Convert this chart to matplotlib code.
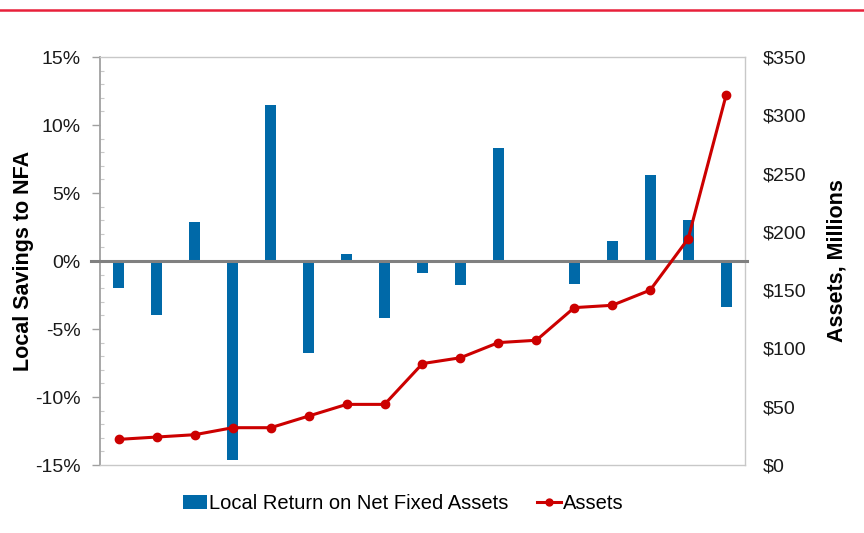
import numpy as np
import matplotlib.pyplot as plt
from matplotlib.ticker import MultipleLocator, FuncFormatter
from matplotlib.lines import Line2D

plt.rcParams['font.family'] = ['Liberation Sans', 'DejaVu Sans']

# rendement local sur actifs nets (en %) et actifs (en millions $)
local_return = [-2.0, -4.0, 2.9, -14.6, 11.5, -6.8, 0.5, -4.2, -0.9, -1.8,
                8.3, -0.05, -1.7, 1.45, 6.3, 3.0, -3.4]
assets = [22, 24, 26, 32, 32, 42, 52, 52, 87, 92,
          105, 107, 135, 137, 150, 194, 317]
bar_label = "Local Return on Net Fixed Assets"
line_label = "Assets"

x = np.arange(len(local_return))

fig = plt.figure(figsize=(8.64, 5.33), dpi=100)
ax = fig.add_axes([100/864, 68/533, 645/864, 408/533])

bars = ax.bar(x, local_return, width=0.29, color='#0069a8', zorder=2,
              label=bar_label)
ax.set_xlim(-0.5, len(x) - 0.5)
ax.set_ylim(-15, 15)
ax.yaxis.set_major_locator(MultipleLocator(5))
ax.yaxis.set_minor_locator(MultipleLocator(1))
ax.yaxis.set_major_formatter(FuncFormatter(lambda v, p: "%d%%" % round(v)))
ax.tick_params(axis='y', which='major', direction='out', length=6, width=1,
               color='#a0a0a0', pad=8, labelsize=14, labelcolor='#1a1a1a')
ax.tick_params(axis='y', which='minor', direction='in', length=3, width=0.8,
               color='#c8c8c8')
ax.set_xticks([])
ax.set_ylabel("Local Savings to NFA", fontsize=15.5, fontweight='bold',
              labelpad=1)

# ligne zero façon excel
ax.axhline(0, xmin=-0.014, xmax=1.003, color='#808080', lw=2.2, zorder=3,
           clip_on=False)

ax.spines['left'].set_color('#a0a0a0')
ax.spines['left'].set_linewidth(1.3)
for s in ['top', 'right', 'bottom']:
    ax.spines[s].set_color('#c8c8c8')
    ax.spines[s].set_linewidth(1)

ax2 = ax.twinx()
ax2.plot(x, assets, color='#cc0000', lw=2.2, marker='o', markersize=6,
         zorder=4, label=line_label)
ax2.set_ylim(0, 350)
ax2.yaxis.set_major_locator(MultipleLocator(50))
ax2.yaxis.set_major_formatter(FuncFormatter(lambda v, p: "$%d" % round(v)))
ax2.tick_params(axis='y', length=0, pad=13, labelsize=14,
                labelcolor='#1a1a1a')
ax2.set_ylabel("Assets, Millions", fontsize=15.5, fontweight='bold',
               labelpad=14)
for s in ax2.spines.values():
    s.set_visible(False)

handles = [bars, Line2D([], [], color='#cc0000', lw=2.2, marker='o',
                        markersize=5)]
fig.legend(handles, [bar_label, line_label], loc='center',
           bbox_to_anchor=(0.467, 0.056), ncol=2, frameon=False,
           fontsize=14.5, handlelength=1.2, handletextpad=0.1,
           columnspacing=1.4)

# trait rouge du haut
fig.add_artist(Line2D([0, 1], [1 - 10/533, 1 - 10/533], color='#e8203a',
                      lw=1.8))

plt.savefig('out.png', dpi=100)
